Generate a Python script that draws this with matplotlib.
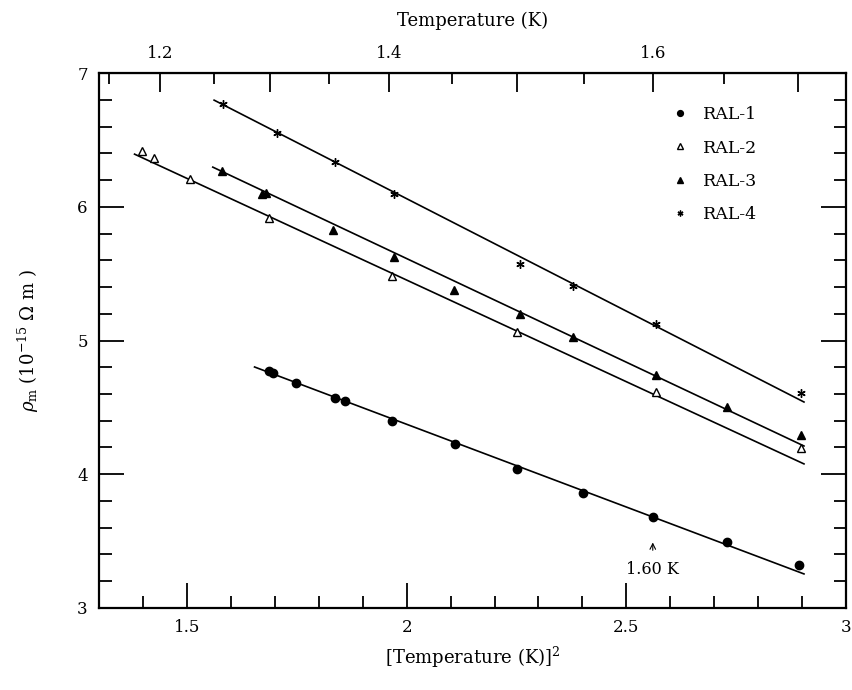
import numpy as np
import matplotlib
matplotlib.use('Agg')
import matplotlib.pyplot as plt

plt.rcParams['font.family'] = 'DejaVu Serif'
plt.rcParams['mathtext.fontset'] = 'dejavuserif'

# ---------------- data (x = T^2 in K^2, y = rho_m in 1e-15 Ohm m) ----------------
ral1_x = [1.686, 1.697, 1.749, 1.837, 1.860, 1.966, 2.110, 2.250, 2.401, 2.561, 2.728, 2.893]
ral1_y = [4.772, 4.757, 4.682, 4.570, 4.548, 4.398, 4.226, 4.039, 3.860, 3.680, 3.493, 3.321]

ral2_x = [1.399, 1.426, 1.508, 1.688, 1.966, 2.252, 2.568, 2.897]
ral2_y = [6.417, 6.364, 6.207, 5.916, 5.482, 5.064, 4.615, 4.196]

ral3_x = [1.580, 1.670, 1.680, 1.832, 1.972, 2.108, 2.257, 2.379, 2.568, 2.728, 2.897]
ral3_y = [6.267, 6.095, 6.105, 5.826, 5.624, 5.378, 5.198, 5.026, 4.742, 4.503, 4.293]

ral4_x = [1.582, 1.704, 1.837, 1.972, 2.257, 2.379, 2.568, 2.897]
ral4_y = [6.768, 6.551, 6.335, 6.095, 5.572, 5.407, 5.123, 4.607]

# fitted straight lines (end points)
fit1_x, fit1_y = [1.654, 2.904], [4.802, 3.254]
fit2_x, fit2_y = [1.381, 2.904], [6.394, 4.077]
fit3_x, fit3_y = [1.559, 2.904], [6.297, 4.211]
fit4_x, fit4_y = [1.562, 2.904], [6.798, 4.540]

labels = ['RAL-1', 'RAL-2', 'RAL-3', 'RAL-4']
top_ticks = [1.2, 1.3, 1.4, 1.5, 1.6, 1.7]
top_labels = ['1.2', '', '1.4', '', '1.6', '']
mark_T = 1.60

fig = plt.figure(figsize=(8.53, 6.90), dpi=100)
ax = fig.add_axes([0.116, 0.119, 0.876, 0.775])

lw = 1.2
ax.plot(fit1_x, fit1_y, color='black', lw=lw)
ax.plot(fit2_x, fit2_y, color='black', lw=lw)
ax.plot(fit3_x, fit3_y, color='black', lw=lw)
ax.plot(fit4_x, fit4_y, color='black', lw=lw)

ax.plot(ral1_x, ral1_y, 'o', color='black', ms=6, ls='none', label=labels[0])
ax.plot(ral2_x, ral2_y, '^', mfc='white', mec='black', mew=1.0, ms=6, ls='none', label=labels[1])
ax.plot(ral3_x, ral3_y, '^', color='black', ms=6, ls='none', label=labels[2])
ax.plot(ral4_x, ral4_y, marker=(6, 2, 0), color='black', mew=1.0, ms=6, ls='none', label=labels[3])

ax.set_xlim(1.3, 3.0)
ax.set_ylim(3, 7)
ax.set_xticks([1.5, 2, 2.5, 3])
ax.set_xticklabels(['1.5', '2', '2.5', '3'])
ax.set_xticks(np.arange(1.4, 3.0, 0.1), minor=True)
ax.set_yticks([3, 4, 5, 6, 7])
ax.set_yticks(np.arange(3, 7, 0.2), minor=True)

ax.tick_params(which='both', direction='in', top=False, right=True, width=1.3,
               labelsize=12, pad=8)
ax.tick_params(which='major', length=18)
ax.tick_params(which='minor', length=9)
for s in ax.spines.values():
    s.set_linewidth(1.6)

sec = ax.secondary_xaxis('top', functions=(lambda x: np.sqrt(np.clip(x, 0, None)), lambda t: t ** 2))
sec.set_xticks(top_ticks)
sec.set_xticklabels(top_labels)
sec.set_xticks(np.arange(1.15, 1.75, 0.1), minor=True)
sec.tick_params(which='both', direction='in', width=1.3, labelsize=12, pad=8)
sec.tick_params(which='major', length=14)
sec.tick_params(which='minor', length=8)
sec.set_xlabel('Temperature (K)', fontsize=13, labelpad=14)

ax.set_xlabel(r'[Temperature (K)]$^2$', fontsize=13, labelpad=6)
ax.set_ylabel(r'$\rho_{\rm m}$ (10$^{-15}$ $\Omega$ m )', fontsize=13, labelpad=26)

# arrow marking 1.60 K
ax.annotate('', xy=(mark_T ** 2, 3.51), xytext=(mark_T ** 2, 3.41),
            arrowprops=dict(arrowstyle='->', lw=0.8, color='black'))
ax.text(mark_T ** 2, 3.29, '1.60 K', ha='center', va='center', fontsize=11.5)

ax.legend(loc='upper left', bbox_to_anchor=(0.773, 0.869), bbox_transform=fig.transFigure,
          frameon=False, fontsize=12.5, handlelength=0.6, handletextpad=1.0,
          labelspacing=0.95, markerscale=0.7)

fig.savefig('out.png', dpi=100)
